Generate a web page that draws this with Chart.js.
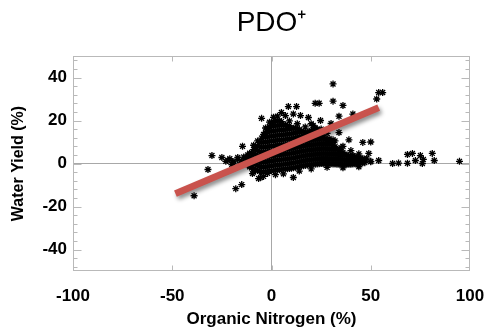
<!DOCTYPE html>
<html><head><meta charset="utf-8">
<script src="https://cdn.jsdelivr.net/npm/chart.js@4"></script>
<style>html,body{margin:0;padding:0;background:#fff}#wrap{width:487px;height:331px}</style>
</head><body><div id="wrap"><canvas id="c" width="487" height="331"></canvas></div>
<script>
const chartTitle = 'PDO\u207A';
const xTitle = 'Organic Nitrogen (%)';
const yTitle = 'Water Yield (%)';
const xTickValues = [-100, -50, 0, 50, 100];
const yTickValues = [-40, -20, 0, 20, 40];
const xRange = [-100, 100];
const yRange = [-50, 50];
const trendX = [-48.4, 54];
const trendY = [-14, 26];

// dense central cloud (Organic Nitrogen %, Water Yield %)
const coreCloud = [
[-13,0.5],[-13,2.5],
[-11,-1.5],[-11,0.8],[-11,3],[-11,4.8],
[-9,-2.5],[-9,-0.2],[-9,2.1],[-9,4.4],[-9,6.5],
[-7,-3.2],[-7,-0.9],[-7,1.4],[-7,3.7],[-7,6],[-7,8.2],
[-5,-4],[-5,-1.7],[-5,0.6],[-5,2.9],[-5,5.2],[-5,7.5],[-5,9.8],[-5,11.8],
[-3,-3.8],[-3,-1.5],[-3,0.8],[-3,3.1],[-3,5.4],[-3,7.7],[-3,10],[-3,12.3],[-3,14.5],
[-1,-3.5],[-1,-1.2],[-1,1.1],[-1,3.4],[-1,5.7],[-1,8],[-1,10.3],[-1,12.6],[-1,14.9],[-1,17.2],
[1,-3.3],[1,-1],[1,1.3],[1,3.6],[1,5.9],[1,8.2],[1,10.5],[1,12.8],[1,15.1],[1,17.4],[1,19.4],
[3,-3],[3,-0.7],[3,1.6],[3,3.9],[3,6.2],[3,8.5],[3,10.8],[3,13.1],[3,15.4],[3,17.7],[3,20],
[5,-2.8],[5,-0.5],[5,1.8],[5,4.1],[5,6.4],[5,8.7],[5,11],[5,13.3],[5,15.6],[5,17.9],[5,19.5],
[7,-2.6],[7,-0.3],[7,2],[7,4.3],[7,6.6],[7,8.9],[7,11.2],[7,13.5],[7,15.8],[7,18],
[9,-2.3],[9,0],[9,2.3],[9,4.6],[9,6.9],[9,9.2],[9,11.5],[9,13.8],[9,16.1],[9,17.6],
[11,-2],[11,0.3],[11,2.6],[11,4.9],[11,7.2],[11,9.5],[11,11.8],[11,14.1],[11,16.4],
[13,-1.6],[13,0.7],[13,3],[13,5.3],[13,7.6],[13,9.9],[13,12.2],[13,14.5],[13,16.3],
[15,-1.2],[15,1.1],[15,3.4],[15,5.7],[15,8],[15,10.3],[15,12.6],[15,14.9],
[17,-0.9],[17,1.4],[17,3.7],[17,6],[17,8.3],[17,10.6],[17,12.9],[17,14.6],
[19,-0.6],[19,1.7],[19,4],[19,6.3],[19,8.6],[19,10.9],[19,13.2],[19,15],
[21,-0.4],[21,1.9],[21,4.2],[21,6.5],[21,8.8],[21,11.1],[21,13.4],[21,15.6],
[23,-0.2],[23,2.1],[23,4.4],[23,6.7],[23,9],[23,11.3],[23,13.6],[23,16],
[25,0],[25,2.3],[25,4.6],[25,6.9],[25,9.2],[25,11.5],[25,13.5],
[27,0],[27,2.3],[27,4.6],[27,6.9],[27,9.2],[27,11.4],
[29,-0.1],[29,2.2],[29,4.5],[29,6.8],[29,9.1],[29,10.5],
[31,-0.2],[31,2.1],[31,4.4],[31,6.7],[31,8.5],
[33,-0.3],[33,2],[33,4.3],[33,6.6],
[35,-0.4],[35,1.9],[35,4.2],[35,5.8],
[37,-0.5],[37,1.8],[37,4.1],
[39,-0.4],[39,1.6],[39,3.6],
[41,-0.2],[41,1.5],[41,3.2],
[43,0],[43,1.4],[43,2.8],
[45,0.2],[45,1.5],[45,2.5],
[47,0.4],[47,1.6]
];

// second layer of the cloud, between the first
const coreCloud2 = [
[-12,-0.5],[-12,1.8],[-12,4],
[-10,-2],[-10,0.3],[-10,2.6],[-10,4.9],
[-8,-2.8],[-8,-0.5],[-8,1.8],[-8,4.1],[-8,6.4],[-8,7.5],
[-6,-3.6],[-6,-1.3],[-6,1],[-6,3.3],[-6,5.6],[-6,7.9],[-6,9.8],
[-4,-3.9],[-4,-1.6],[-4,0.7],[-4,3],[-4,5.3],[-4,7.6],[-4,9.9],[-4,12.2],[-4,13.5],
[-2,-3.7],[-2,-1.4],[-2,0.9],[-2,3.2],[-2,5.5],[-2,7.8],[-2,10.1],[-2,12.4],[-2,14.7],[-2,16.2],
[0,-3.4],[0,-1.1],[0,1.2],[0,3.5],[0,5.8],[0,8.1],[0,10.4],[0,12.7],[0,15],[0,17.3],[0,18.8],
[2,-3.1],[2,-0.8],[2,1.5],[2,3.8],[2,6.1],[2,8.4],[2,10.7],[2,13],[2,15.3],[2,17.6],[2,19.8],
[4,-2.9],[4,-0.6],[4,1.7],[4,4],[4,6.3],[4,8.6],[4,10.9],[4,13.2],[4,15.5],[4,17.8],[4,19.9],
[6,-2.7],[6,-0.4],[6,1.9],[6,4.2],[6,6.5],[6,8.8],[6,11.1],[6,13.4],[6,15.7],[6,18],
[8,-2.4],[8,-0.1],[8,2.2],[8,4.5],[8,6.8],[8,9.1],[8,11.4],[8,13.7],[8,16],[8,17.4],
[10,-2.2],[10,0.1],[10,2.4],[10,4.7],[10,7],[10,9.3],[10,11.6],[10,13.9],[10,16.2],
[12,-1.8],[12,0.5],[12,2.8],[12,5.1],[12,7.4],[12,9.7],[12,12],[12,14.3],[12,16.4],
[14,-1.4],[14,0.9],[14,3.2],[14,5.5],[14,7.8],[14,10.1],[14,12.4],[14,14.7],[14,15.8],
[16,-1],[16,1.3],[16,3.6],[16,5.9],[16,8.2],[16,10.5],[16,12.8],[16,14.8],
[18,-0.7],[18,1.6],[18,3.9],[18,6.2],[18,8.5],[18,10.8],[18,13.1],[18,14.4],
[20,-0.5],[20,1.8],[20,4.1],[20,6.4],[20,8.7],[20,11],[20,13.3],[20,15.2],
[22,-0.3],[22,2],[22,4.3],[22,6.6],[22,8.9],[22,11.2],[22,13.5],[22,16.5],
[24,-0.1],[24,2.2],[24,4.5],[24,6.8],[24,9.1],[24,11.4],[24,13.8],
[26,0],[26,2.3],[26,4.6],[26,6.9],[26,9.2],[26,11.8],
[28,0],[28,2.2],[28,4.5],[28,6.8],[28,9.1],[28,11],
[30,-0.1],[30,2.1],[30,4.4],[30,6.7],[30,9],
[32,-0.2],[32,2],[32,4.3],[32,6.6],[32,7.8],
[34,-0.3],[34,1.9],[34,4.2],[34,6.2],
[36,-0.4],[36,1.8],[36,4.1],[36,5.2],
[38,-0.4],[38,1.7],[38,3.9],
[40,-0.3],[40,1.5],[40,3.4],
[42,-0.1],[42,1.4],[42,3],
[44,0.1],[44,1.4],[44,2.6],
[46,0.3],[46,1.5],[46,2.2]
];

// ragged edge of the cloud and its left tail
const edgePoints = [
[-23,1],[-21,2.2],[-19,0.8],[-17,2.8],[-15,1.2],[-14,3],[-16,-0.3],[-20,-0.5],
[-7,10.5],[-9,8.5],[-3,16.5],[-1,19.2],[1,21.5],[3,22],[9,19.8],[13,18.5],[17,17],
[20,18.5],[25,16],[28,14],[32,10.5],[36,8],[40,6],[44,4.5],[48,2.5],[50,0.8],
[44,-1.5],[36,-2],[28,-1.8],[20,-2.5],[14,-3.5],[6,-4.8],[2,-5.2],[-4,-6],[-9,-4]
];

// sparser points around the top of the cloud
const fringePoints = [
[18.6,21.4],[24.7,20],[5,23.7],[7,22.3],[11,23],[14.6,22.3],[30,18.6],[34,14.4],
[31,11],[26,13],[21,17.7],[-5,21],[8.5,26.5],[12.6,26.5],[34,22],[41,23],
[-22,1.4],[-19.6,0.5],[-17,1.9],[-9.6,-4.7],[-6.5,-7],[-2,-4.6],[11,-6.5],
[29,11.6],[35,7.4],[46,9.8]
];

// isolated outliers
const outlierPoints = [
[31,37],[53,30],[54,33],[56,33],[22,28],[24,28],[31,29],[36,27],
[50,10],[39,11],[49,4.7],[54,1.4],[30,10.7],[41,3.7],[50,1],
[61,0],[64,0.2],[68.5,4.2],[71,4.7],[68.5,0.1],[72.5,1.4],[75,3.7],[76.5,1.9],[76,0],
[81,4.7],[82,1.4],[94.7,1],
[-14.6,8],[-30,3.7],[-25,2.8],[-32,-2.8],[-39,-15],[-18,-11.7],[-15,-9.8],[-5.5,-6.5]
];

const allPoints = coreCloud.concat(coreCloud2, edgePoints, fringePoints, outlierPoints).map(p => ({x: p[0], y: p[1]}));
const trendData = trendX.map((x, i) => ({x: x, y: trendY[i]}));

const FONT = "'Liberation Sans', Arial, Helvetica, sans-serif";
const GRAY = '#b9b9b9';

const shadowPlugin = {
  id: 'lineShadow',
  beforeDatasetDraw(chart, args) {
    if (args.index === 0) {
      const c = chart.ctx;
      c.save();
      c.shadowColor = 'rgba(0,0,0,0.45)';
      c.shadowBlur = 4;
      c.shadowOffsetX = 2;
      c.shadowOffsetY = 3;
    }
  },
  afterDatasetDraw(chart, args) {
    if (args.index === 0) chart.ctx.restore();
  }
};

const framePlugin = {
  id: 'frame',
  beforeDatasetsDraw(chart) {
    const {ctx, chartArea: a, scales: {x, y}} = chart;
    const L = Math.round(a.left) + 0.5, R = Math.round(a.right) - 0.5;
    const T = Math.round(a.top) + 0.5, B = Math.round(a.bottom) - 0.5;
    ctx.save();
    ctx.strokeStyle = GRAY;
    ctx.lineWidth = 1;
    ctx.strokeRect(L, T, R - L, B - T);
    ctx.beginPath();
    for (let v = -48; v <= 48; v += 4) {
      const py = Math.round(y.getPixelForValue(v)) + 0.5;
      const len = (v % 20 === 0) ? 8 : 4;
      ctx.moveTo(L, py); ctx.lineTo(L + len, py);
      ctx.moveTo(R, py); ctx.lineTo(R - len, py);
    }
    for (const v of [-50, 0, 50]) {
      const px = Math.round(x.getPixelForValue(v)) + 0.5;
      ctx.moveTo(px, T); ctx.lineTo(px, T + 5);
      ctx.moveTo(px, B); ctx.lineTo(px, B - 5);
    }
    ctx.stroke();
    ctx.restore();
  }
};

new Chart(document.getElementById('c'), {
  type: 'scatter',
  data: {
    datasets: [
      {
        data: trendData,
        showLine: true,
        borderColor: '#c9534d',
        borderWidth: 7,
        borderCapStyle: 'butt',
        pointRadius: 0,
        fill: false,
        order: 0
      },
      {
        data: allPoints,
        pointStyle: 'star',
        pointRadius: 3.5,
        borderColor: '#000',
        backgroundColor: '#000',
        borderWidth: 1.3,
        order: 1
      }
    ]
  },
  options: {
    responsive: false,
    animation: false,
    devicePixelRatio: 1,
    layout: {padding: {left: 0, right: 17, top: 0, bottom: 0}},
    plugins: {
      legend: {display: false},
      tooltip: {enabled: false},
      title: {
        display: true,
        text: chartTitle,
        fullSize: false,
        color: '#000',
        font: {family: FONT, size: 28, weight: 'normal'},
        padding: {top: 6, bottom: 16.4}
      }
    },
    scales: {
      x: {
        type: 'linear',
        position: 'bottom',
        min: xRange[0], max: xRange[1],
        afterBuildTicks: s => { s.ticks = xTickValues.map(v => ({value: v})); },
        afterFit: s => { s.height = 60; s.paddingLeft = 0; s.paddingRight = 0; },
        border: {display: false},
        grid: {drawTicks: false, lineWidth: 1, color: c => (c.tick && c.tick.value === 0) ? '#a8a8a8' : 'rgba(0,0,0,0)'},
        ticks: {color: '#000', padding: 15.5, font: {family: FONT, size: 17, weight: 'bold'}},
        title: {display: true, text: xTitle, color: '#000', font: {family: FONT, size: 17, weight: 'bold'}, padding: {top: 0, bottom: 1}}
      },
      y: {
        type: 'linear',
        position: 'left',
        min: yRange[0], max: yRange[1],
        afterBuildTicks: s => { s.ticks = yTickValues.map(v => ({value: v})); },
        afterFit: s => { s.width = 73; s.paddingTop = 0; s.paddingBottom = 0; },
        border: {display: false},
        grid: {drawTicks: false, lineWidth: 1, color: c => (c.tick && c.tick.value === 0) ? '#a8a8a8' : 'rgba(0,0,0,0)'},
        ticks: {color: '#000', padding: 6, font: {family: FONT, size: 17, weight: 'bold'}},
        title: {display: true, text: yTitle, color: '#000', font: {family: FONT, size: 16, weight: 'bold'}, padding: {top: 9, bottom: 0}}
      }
    }
  },
  plugins: [shadowPlugin, framePlugin]
});
</script>
</body></html>
